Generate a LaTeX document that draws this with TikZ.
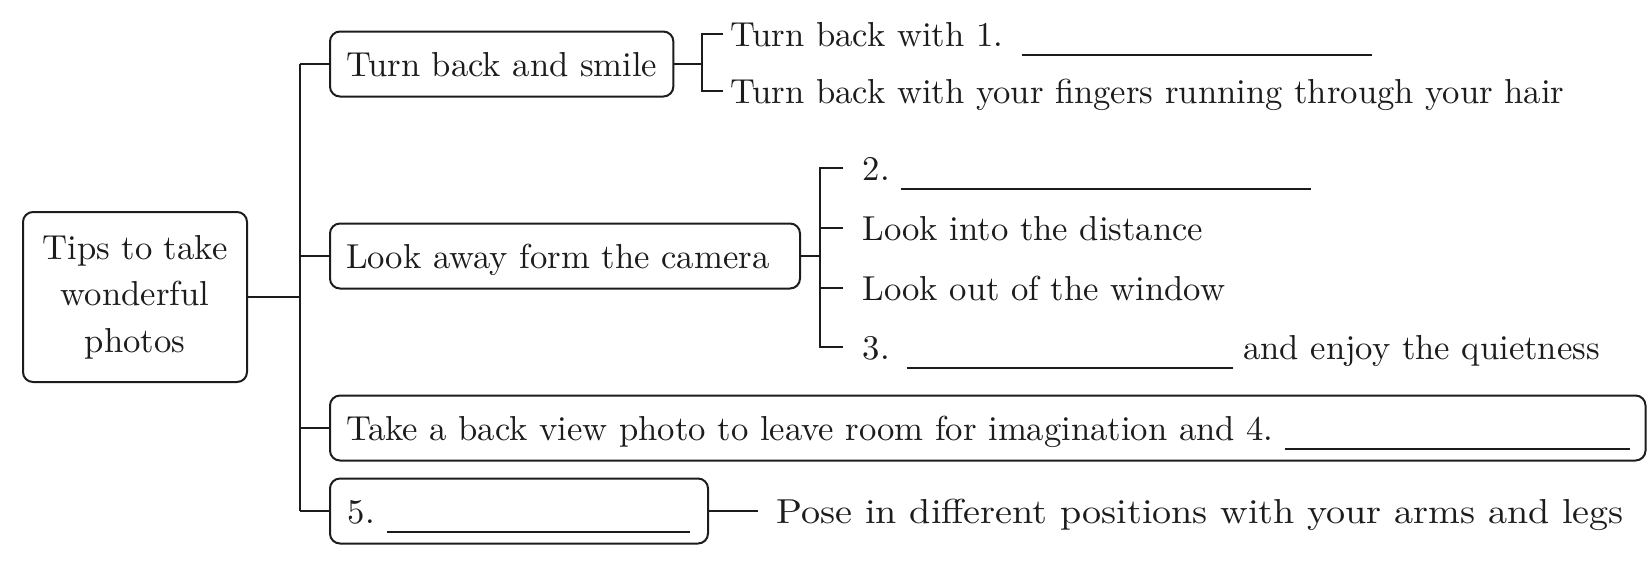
\documentclass[tikz,border=0pt]{standalone}
\usetikzlibrary{positioning}
\definecolor{ink}{RGB}{28,28,28}
\newcommand{\blankline}[1]{\rule[-2.7pt]{#1}{0.6pt}}
\tikzset{
  tipbox/.style={draw=ink, line width=0.6pt, rounded corners=3pt, inner xsep=4.8pt, inner ysep=0pt,
                 minimum height=19.5pt, text height=9.5pt, text depth=2pt, anchor=west},
  leaf/.style={anchor=west, inner xsep=2pt, inner ysep=0pt, text height=9.5pt, text depth=2pt},
  branch/.style={draw=ink, line width=0.6pt}
}

\begin{document}
\begin{tikzpicture}[x=0.3pt, y=-0.3pt, font=\fontsize{10.4pt}{14pt}\selectfont, text=ink]
        \useasboundingbox (0,0) rectangle (1651,565);

        % root
        \node[draw=ink, line width=0.6pt, rounded corners=3pt, align=center,
              minimum width=67.2pt, minimum height=51pt, inner sep=0pt]
          (root) at (135,297) {Tips to take\\wonderful\\photos};
        \coordinate (trunk) at (300,297);

        % main tips
        \node[tipbox] (smile) at (329,64) {Turn back and smile};
        \node[tipbox, text width=131.4pt, align=left] (away) at (329,256) {Look away form the camera};
        \node[tipbox, minimum width=394.2pt] (backview) at (329,428)
          {Take a back view photo to leave room for imagination and 4.\hspace{3.3pt}\blankline{103.5pt}};
        \node[tipbox, minimum width=113.4pt] (blank5) at (329,511) {5.\hspace{3.6pt}\blankline{91pt}};

        % details
        \coordinate (smilefork) at (702,64);
        \node[leaf] (with1) at (723,34) {Turn back with 1.\hspace{5.7pt}\blankline{105pt}};
        \node[leaf] (fingers) at (723,91) {Turn back with your fingers running through your hair};

        \coordinate (awayfork) at (820,256);
        \node[leaf, inner xsep=5.7pt] (blank2) at (843,168) {2.\hspace{3.3pt}\blankline{123pt}};
        \node[leaf, inner xsep=5.7pt] (distance) at (843,228) {Look into the distance};
        \node[leaf, inner xsep=5.7pt] (window) at (843,288) {Look out of the window};
        \node[leaf, inner xsep=5.7pt] (blank3) at (843,347)
          {3.\hspace{5.1pt}\blankline{98pt}\hspace{3pt}and enjoy the quietness};

        \node[leaf, inner xsep=5.4pt, right=14.7pt of blank5] (pose)
          {\scalebox{1.1}[1]{Pose in different positions with your arms and legs}};

        % connectors
        \draw[branch] (root.east) -- (trunk);
        \draw[branch] (smile.west -| trunk) -- (blank5.west -| trunk);
        \foreach \b in {smile, away, backview, blank5}
          \draw[branch] (\b.west -| trunk) -- (\b.west);

        \draw[branch] (smile.east) -- (smilefork);
        \draw[branch] (with1.west) -- (with1.west -| smilefork) -- (fingers.west -| smilefork) -- (fingers.west);

        \draw[branch] (away.east) -- (awayfork);
        \draw[branch] (blank2.west) -- (blank2.west -| awayfork) -- (blank3.west -| awayfork) -- (blank3.west);
        \foreach \l in {distance, window}
          \draw[branch] (\l.west -| awayfork) -- (\l.west);

        \draw[branch] (blank5.east) -- (pose.west);
      \end{tikzpicture}
\end{document}
